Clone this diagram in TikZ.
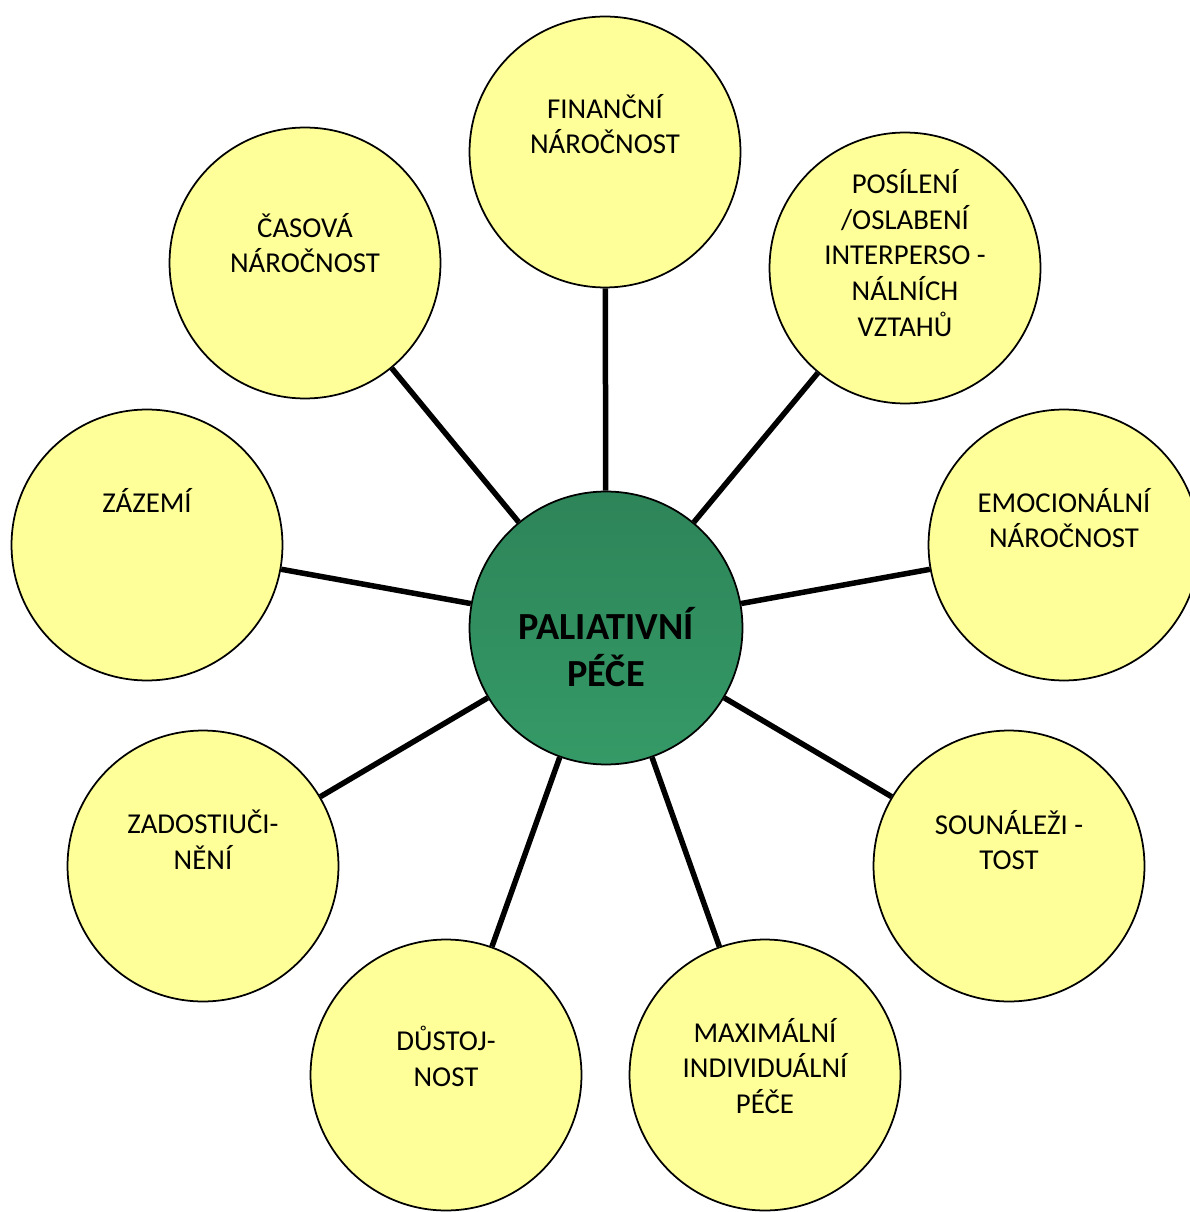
\documentclass[tikz,border=0pt]{standalone}
\usepackage{fontspec}
\setmainfont{Carlito}
\definecolor{zluta}{HTML}{FFFF99}
\definecolor{zelenahore}{RGB}{45,132,88}
\definecolor{zelenadole}{RGB}{53,154,103}
\begin{document}
\begin{tikzpicture}[x=0.02cm, y=-0.02cm,
  every node/.style={font=\fontsize{16.4}{20.4}\selectfont, align=center, inner sep=0pt},
  spoj/.style={line width=0.11cm, black}
]
\tikzset{
  bublina/.style={circle, draw=black, line width=1pt, fill=zluta, minimum size=5.42cm},
  stred/.style={circle, draw=black, line width=1pt, top color=zelenahore, bottom color=zelenadole, minimum size=5.46cm},
  popis/.style={text=black}
}
\useasboundingbox (0,0) rectangle (1189,1212);

% kruhy
\node[stred] (pece) at (606,628) {};
\node[bublina] (financni) at (605,152) {};
\node[bublina] (vztahy) at (905,268) {};
\node[bublina] (emoce) at (1064,545) {};
\node[bublina] (sounalezitost) at (1009,866) {};
\node[bublina] (individualni) at (765,1075) {};
\node[bublina] (dustojnost) at (446,1075) {};
\node[bublina] (zadostiucineni) at (203,866) {};
\node[bublina] (zazemi) at (147,545) {};
\node[bublina] (casova) at (305,263) {};

% spojnice
\foreach \cil in {financni, vztahy, emoce, sounalezitost, individualni,
                  dustojnost, zadostiucineni, zazemi, casova}
  \draw[spoj] (pece) -- (\cil);

% popisky
\node[popis, font=\fontsize{21.8}{26.6}\selectfont\bfseries] (pece-t) at (606,647) {PALIATIVNÍ\\PÉČE};
\node[popis] (financni-t) at (605,124) {FINANČNÍ\\NÁROČNOST};
\node[popis] (vztahy-t) at (905,253) {POSÍLENÍ\\/OSLABENÍ\\INTERPERSO -\\NÁLNÍCH\\VZTAHŮ};
\node[popis] (emoce-t) at (1064,518) {EMOCIONÁLNÍ\\NÁROČNOST};
\node[popis] (sounalezitost-t) at (1009,840) {SOUNÁLEŽI -\\TOST};
\node[popis] (individualni-t) at (765,1066) {MAXIMÁLNÍ\\INDIVIDUÁLNÍ\\PÉČE};
\node[popis] (dustojnost-t) at (446,1056) {DŮSTOJ-\\NOST};
\node[popis] (zadostiucineni-t) at (203,840) {ZADOSTIUČI-\\NĚNÍ};
\node[popis] (zazemi-t) at (147,500) {ZÁZEMÍ};
\node[popis] (casova-t) at (305,243) {ČASOVÁ\\NÁROČNOST};
\end{tikzpicture}
\end{document}
